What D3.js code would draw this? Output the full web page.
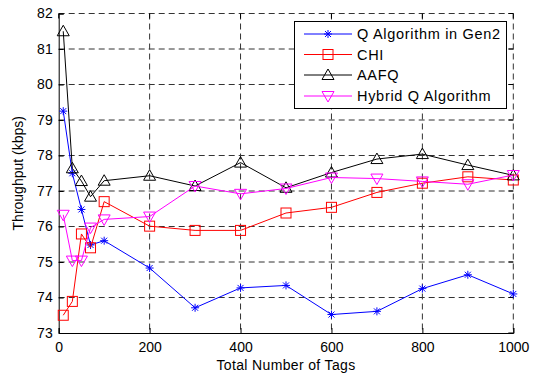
<!DOCTYPE html>
<html><head><meta charset="utf-8">
<script src="https://cdn.jsdelivr.net/npm/d3@7"></script>
<style>body{margin:0;background:#fff}svg{display:block;font-family:"Liberation Sans",Arial,sans-serif}</style>
</head><body>
<script>
const tags = [10,30,50,70,100,200,300,400,500,600,700,800,900,1000];
const qGen2 = [79.25,77.5,76.48,75.48,75.6,74.83,73.71,74.27,74.34,73.52,73.61,74.25,74.64,74.1];
const chi = [73.5,73.89,75.79,75.4,76.7,76.01,75.89,75.89,76.38,76.54,76.96,77.22,77.4,77.31];
const aafq = [81.5,77.64,77.28,76.84,77.29,77.43,77.14,77.8,77.09,77.52,77.9,78.04,77.73,77.44];
const hybrid = [76.33,75.04,75.04,75.97,76.2,76.28,77.14,76.92,77.07,77.38,77.35,77.27,77.19,77.45];
const seriesNames = ["Q Algorithm in Gen2","CHI","AAFQ","Hybrid Q Algorithm"];
const xTicks = [0,200,400,600,800,1000];
const yTicks = [73,74,75,76,77,78,79,80,81,82];

const W=540,H=376;
const m={l:58.7,r:513.3,t:13.5,b:333};
const x=d3.scaleLinear().domain([0,1000]).range([m.l,m.r]);
const y=d3.scaleLinear().domain([73,82]).range([m.b,m.t]);
const svg=d3.select("body").append("svg").attr("width",W).attr("height",H);

// grid
const g=svg.append("g");
g.selectAll(".gx").data(xTicks.slice(1)).enter().append("line")
 .attr("x1",d=>x(d)).attr("x2",d=>x(d)).attr("y1",m.t).attr("y2",m.b)
 .attr("stroke","#333").attr("stroke-width",1).attr("stroke-dasharray","6,4");
g.selectAll(".gy").data(yTicks.slice(1)).enter().append("line")
 .attr("x1",m.l).attr("x2",m.r).attr("y1",d=>y(d)).attr("y2",d=>y(d))
 .attr("stroke","#333").attr("stroke-width",1).attr("stroke-dasharray","6,4");

// axes
const xa=svg.append("g").attr("transform",`translate(0,${m.b})`)
 .call(d3.axisBottom(x).tickValues(xTicks).tickSize(-5).tickPadding(9).tickFormat(d3.format("d")));
const ya=svg.append("g").attr("transform",`translate(${m.l},0)`)
 .call(d3.axisLeft(y).tickValues(yTicks).tickSize(-5).tickPadding(6).tickFormat(d3.format("d")));
[xa,ya].forEach(a=>{a.select(".domain").attr("stroke","#000");a.selectAll("text").attr("font-size",14).attr("fill","#000").attr("font-family","Liberation Sans, Arial, sans-serif");a.selectAll(".tick line").attr("stroke","#000");});
xa.selectAll("text").attr("dy","0.71em");
// top / right ticks
svg.append("g").selectAll("line").data(xTicks).enter().append("line")
 .attr("x1",d=>x(d)).attr("x2",d=>x(d)).attr("y1",m.t).attr("y2",m.t+5).attr("stroke","#000");
svg.append("g").selectAll("line").data(yTicks).enter().append("line")
 .attr("x1",m.r-5).attr("x2",m.r).attr("y1",d=>y(d)).attr("y2",d=>y(d)).attr("stroke","#000");

// axis labels
svg.append("text").attr("x",(m.l+m.r)/2).attr("y",370).attr("text-anchor","middle")
 .attr("font-size",14).attr("letter-spacing",0.35).text("Total Number of Tags");
svg.append("text").attr("transform",`translate(23,${(m.t+m.b)/2}) rotate(-90)`).attr("text-anchor","middle")
 .attr("font-size",14).text("Throughput (kbps)");

// markers
function drawMarker(sel,type,color){
  if(type==="star"){
    sel.append("path").attr("d","M-4,0H4M0,-4V4M-3,-3L3,3M-3,3L3,-3").attr("stroke",color).attr("fill","none").attr("stroke-width",1);
  } else if(type==="square"){
    sel.append("rect").attr("x",-5).attr("y",-5).attr("width",10).attr("height",10).attr("stroke",color).attr("fill","none");
  } else if(type==="tri"){
    sel.append("path").attr("d","M0,-6L6,4.5L-6,4.5Z").attr("stroke",color).attr("fill","none");
  } else {
    sel.append("path").attr("d","M0,6L6,-4.5L-6,-4.5Z").attr("stroke",color).attr("fill","none");
  }
}
const series=[
 {name:seriesNames[0],vals:qGen2,color:"#0000ff",mk:"star"},
 {name:seriesNames[1],vals:chi,color:"#ff0000",mk:"square"},
 {name:seriesNames[2],vals:aafq,color:"#000000",mk:"tri"},
 {name:seriesNames[3],vals:hybrid,color:"#ff00ff",mk:"tridown"}
];
const line=d3.line().x(d=>x(d[0])).y(d=>y(d[1]));
series.forEach(s=>{
  const pts=tags.map((t,i)=>[t,s.vals[i]]);
  svg.append("path").attr("d",line(pts)).attr("fill","none").attr("stroke",s.color).attr("stroke-width",1);
  pts.forEach(p=>{
    const gg=svg.append("g").attr("transform",`translate(${x(p[0])},${y(p[1])})`);
    drawMarker(gg,s.mk,s.color);
  });
});

// legend
const lg=svg.append("g");
lg.append("rect").attr("x",294.5).attr("y",21.5).attr("width",212).attr("height",87).attr("fill","#fff").attr("stroke","#000");
const ly=[34,54.5,75,96];
series.forEach((s,i)=>{
  lg.append("line").attr("x1",304).attr("x2",352).attr("y1",ly[i]).attr("y2",ly[i]).attr("stroke",s.color);
  drawMarker(lg.append("g").attr("transform",`translate(328,${ly[i]})`),s.mk,s.color);
  lg.append("text").attr("x",357).attr("y",ly[i]).attr("dy","0.35em").attr("font-size",14.5).attr("letter-spacing",0.7).text(s.name);
});
</script>
</body></html>
